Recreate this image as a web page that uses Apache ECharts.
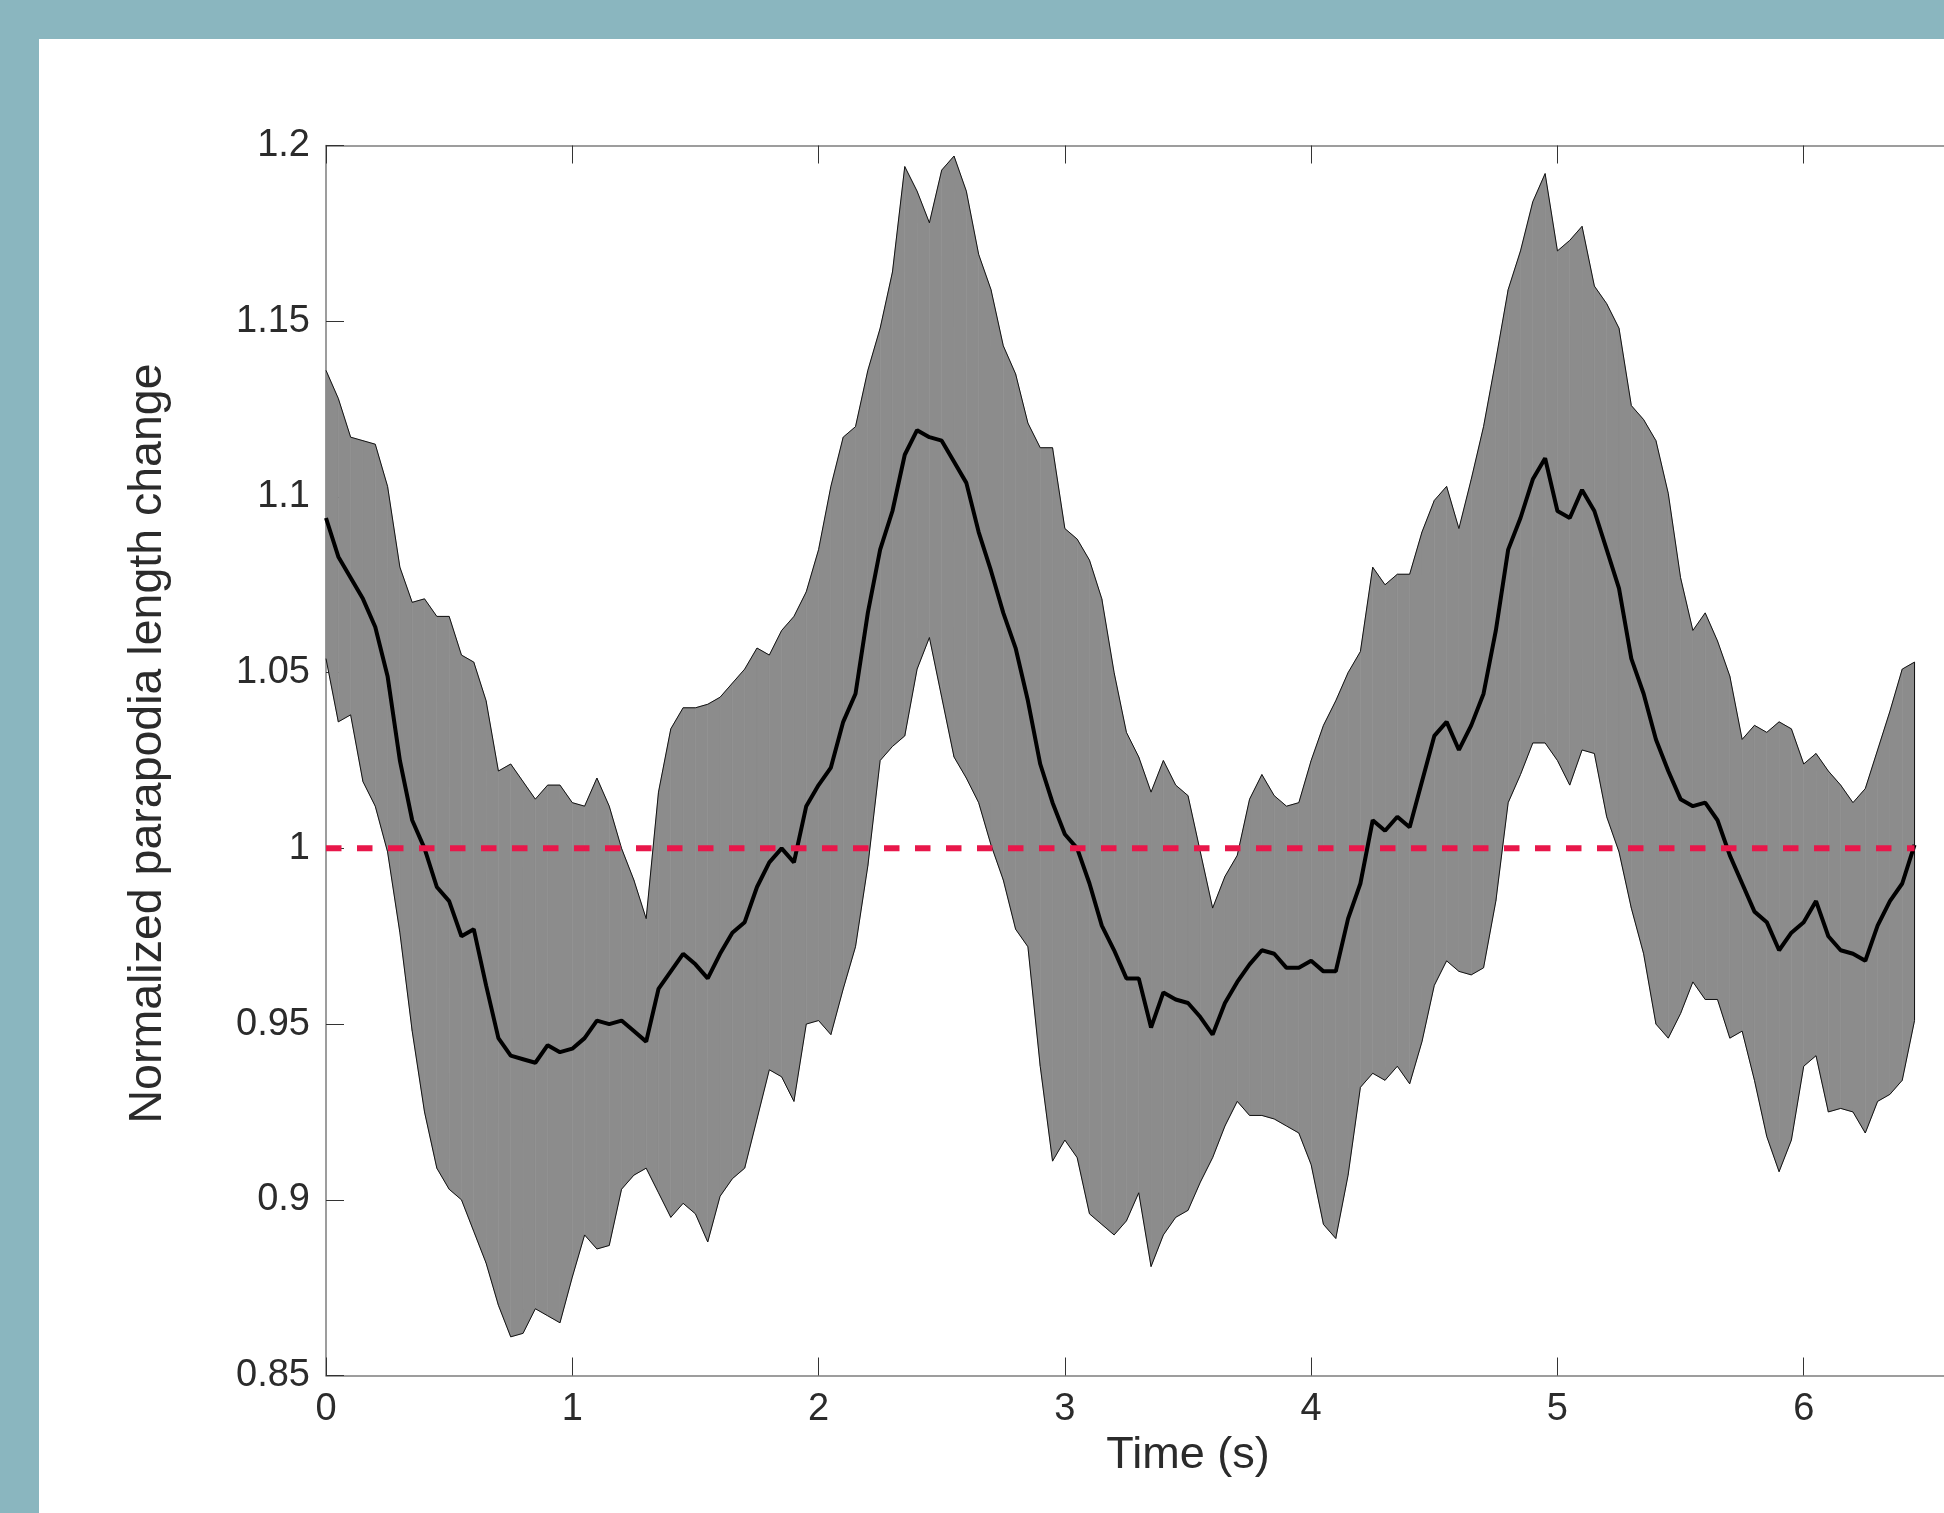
<!DOCTYPE html>
<html>
<head>
<meta charset="utf-8">
<script src="https://cdn.jsdelivr.net/npm/echarts@6/dist/echarts.min.js"></script>
<style>
  html, body { margin: 0; padding: 0; width: 1944px; height: 1513px; overflow: hidden; background: #8ab6bf; }
  #panel { position: absolute; left: 39px; top: 39px; width: 1905px; height: 1474px; background: #ffffff; }
  #chart { position: absolute; left: 0; top: 0; width: 2200px; height: 1513px; }
</style>
</head>
<body>
<div id="panel"></div>
<div id="chart"></div>
<script>
// time samples (s)
const times = [
  0.00,0.05,0.10,0.15,0.20,0.25,0.30,0.35,0.40,0.45,
  0.50,0.55,0.60,0.65,0.70,0.75,0.80,0.85,0.90,0.95,
  1.00,1.05,1.10,1.15,1.20,1.25,1.30,1.35,1.40,1.45,
  1.50,1.55,1.60,1.65,1.70,1.75,1.80,1.85,1.90,1.95,
  2.00,2.05,2.10,2.15,2.20,2.25,2.30,2.35,2.40,2.45,
  2.50,2.55,2.60,2.65,2.70,2.75,2.80,2.85,2.90,2.95,
  3.00,3.05,3.10,3.15,3.20,3.25,3.30,3.35,3.40,3.45,
  3.50,3.55,3.60,3.65,3.70,3.75,3.80,3.85,3.90,3.95,
  4.00,4.05,4.10,4.15,4.20,4.25,4.30,4.35,4.40,4.45,
  4.50,4.55,4.60,4.65,4.70,4.75,4.80,4.85,4.90,4.95,
  5.00,5.05,5.10,5.15,5.20,5.25,5.30,5.35,5.40,5.45,
  5.50,5.55,5.60,5.65,5.70,5.75,5.80,5.85,5.90,5.95,
  6.00,6.05,6.10,6.15,6.20,6.25,6.30,6.35,6.40,6.45
];
// mean normalized length change
const meanValues = [
  1.094,1.083,1.077,1.071,1.063,1.049,1.025,1.008,1.000,0.989,
  0.985,0.975,0.977,0.961,0.946,0.941,0.940,0.939,0.944,0.942,
  0.943,0.946,0.951,0.950,0.951,0.948,0.945,0.960,0.965,0.970,
  0.967,0.963,0.970,0.976,0.979,0.989,0.996,1.000,0.996,1.012,
  1.018,1.023,1.036,1.044,1.067,1.085,1.096,1.112,1.119,1.117,
  1.116,1.110,1.104,1.090,1.079,1.067,1.057,1.042,1.024,1.013,
  1.004,1.000,0.990,0.978,0.971,0.963,0.963,0.949,0.959,0.957,
  0.956,0.952,0.947,0.956,0.962,0.967,0.971,0.970,0.966,0.966,
  0.968,0.965,0.965,0.980,0.990,1.008,1.005,1.009,1.006,1.019,
  1.032,1.036,1.028,1.035,1.044,1.062,1.085,1.094,1.105,1.111,
  1.096,1.094,1.102,1.096,1.085,1.074,1.054,1.044,1.031,1.022,
  1.014,1.012,1.013,1.008,0.998,0.990,0.982,0.979,0.971,0.976,
  0.979,0.985,0.975,0.971,0.970,0.968,0.978,0.985,0.990,1.001
];
// upper edge of the shaded band
const upperValues = [
  1.136,1.128,1.117,1.116,1.115,1.103,1.080,1.070,1.071,1.066,
  1.066,1.055,1.053,1.042,1.022,1.024,1.019,1.014,1.018,1.018,
  1.013,1.012,1.020,1.012,1.000,0.991,0.980,1.016,1.034,1.040,
  1.040,1.041,1.043,1.047,1.051,1.057,1.055,1.062,1.066,1.073,
  1.085,1.103,1.117,1.120,1.136,1.148,1.164,1.194,1.187,1.178,
  1.193,1.197,1.187,1.169,1.159,1.143,1.135,1.121,1.114,1.114,
  1.091,1.088,1.082,1.071,1.050,1.033,1.026,1.016,1.025,1.018,
  1.015,0.999,0.983,0.992,0.998,1.014,1.021,1.015,1.012,1.013,
  1.025,1.035,1.042,1.050,1.056,1.080,1.075,1.078,1.078,1.090,
  1.099,1.103,1.091,1.105,1.120,1.139,1.159,1.170,1.184,1.192,
  1.170,1.173,1.177,1.160,1.155,1.148,1.126,1.122,1.116,1.101,
  1.077,1.062,1.067,1.059,1.049,1.031,1.035,1.033,1.036,1.034,
  1.024,1.027,1.022,1.018,1.013,1.017,1.028,1.039,1.051,1.053
];
// lower edge of the shaded band
const lowerValues = [
  1.054,1.036,1.038,1.019,1.012,0.999,0.976,0.948,0.925,0.909,
  0.903,0.900,0.891,0.882,0.870,0.861,0.862,0.869,0.867,0.865,
  0.878,0.890,0.886,0.887,0.903,0.907,0.909,0.902,0.895,0.899,
  0.896,0.888,0.901,0.906,0.909,0.923,0.937,0.935,0.928,0.950,
  0.951,0.947,0.960,0.972,0.995,1.025,1.029,1.032,1.051,1.060,
  1.043,1.026,1.020,1.013,1.001,0.991,0.977,0.972,0.938,0.911,
  0.917,0.912,0.896,0.893,0.890,0.894,0.902,0.881,0.890,0.895,
  0.897,0.905,0.912,0.921,0.928,0.924,0.924,0.923,0.921,0.919,
  0.910,0.893,0.889,0.907,0.932,0.936,0.934,0.938,0.933,0.945,
  0.961,0.968,0.965,0.964,0.966,0.985,1.013,1.021,1.030,1.030,
  1.025,1.018,1.028,1.027,1.009,0.999,0.983,0.970,0.950,0.946,
  0.953,0.962,0.957,0.957,0.946,0.948,0.934,0.918,0.908,0.917,
  0.938,0.941,0.925,0.926,0.925,0.919,0.928,0.930,0.934,0.951
];
// reference line at 1
const refTimes = [0, 6.45];
const refValues = [1, 1];
// tick labels
const xTickLabels = ['0','1','2','3','4','5','6',''];
const yTickLabels = {'0.85':'0.85','0.9':'0.9','0.95':'0.95','1':'1','1.05':'1.05','1.1':'1.1','1.15':'1.15','1.2':'1.2'};

const FONT = "'Liberation Sans', Arial, Helvetica, sans-serif";
const TXT = '#2b2b2b';

const chart = echarts.init(document.getElementById('chart'), null, {renderer: 'canvas'});

const last = times.length - 1;
// one quad per interval of the band: [t0, lo0, hi0, t1, lo1, hi1]
const bandData = [];
for (let i = 0; i < last; i++) {
  bandData.push([times[i], lowerValues[i], upperValues[i], times[i + 1], lowerValues[i + 1], upperValues[i + 1]]);
}
const lowerData = times.map((t, i) => [t, lowerValues[i]]);
const upperData = times.map((t, i) => [t, upperValues[i]]);
const meanData = times.map((t, i) => [t, meanValues[i]]);
const refData = refTimes.map((t, i) => [t, refValues[i]]);
const edgeData = [[times[last], lowerValues[last]], [times[last], upperValues[last]]];

function renderBand(params, api) {
  const a = api.coord([api.value(0), api.value(1)]);
  const b = api.coord([api.value(0), api.value(2)]);
  const c = api.coord([api.value(3), api.value(5)]);
  const d = api.coord([api.value(3), api.value(4)]);
  return {
    type: 'polygon',
    shape: {points: [a, b, c, d]},
    style: {fill: '#8c8c8c', stroke: '#8c8c8c', lineWidth: 0.6},
    silent: true
  };
}

const axisLineStyle = {color: '#7d7d7d', width: 1.5};
const tickStyle = {color: '#333333', width: 1};

const option = {
  animation: false,
  backgroundColor: 'transparent',
  grid: {left: 326, top: 145.5, width: 1724, height: 1230, containLabel: false},
  xAxis: [
    {
      type: 'value', min: 0, max: 7, interval: 1, position: 'bottom',
      axisLine: {show: true, onZero: false, lineStyle: axisLineStyle},
      axisTick: {show: true, inside: true, length: 18, lineStyle: tickStyle},
      axisLabel: {fontSize: 38, color: TXT, fontFamily: FONT, margin: 15,
        formatter: v => xTickLabels[Math.round(v)]},
      splitLine: {show: false},
      name: 'Time (s)', nameLocation: 'middle', nameGap: 58,
      nameTextStyle: {fontSize: 45, color: TXT, fontFamily: FONT}
    },
    {
      type: 'value', min: 0, max: 7, interval: 1, position: 'top',
      axisLine: {show: true, onZero: false, lineStyle: axisLineStyle},
      axisTick: {show: true, inside: true, length: 18, lineStyle: tickStyle},
      axisLabel: {show: false}, splitLine: {show: false}
    }
  ],
  yAxis: [
    {
      type: 'value', min: 0.85, max: 1.2, interval: 0.05, position: 'left',
      axisLine: {show: true, onZero: false, lineStyle: axisLineStyle},
      axisTick: {show: true, inside: true, length: 18, lineStyle: tickStyle},
      axisLabel: {fontSize: 38, color: TXT, fontFamily: FONT, margin: 16,
        formatter: v => yTickLabels[String(+v.toFixed(2))]},
      splitLine: {show: false},
      name: 'Normalized parapodia length change', nameLocation: 'middle', nameGap: 154,
      nameTextStyle: {fontSize: 46.5, color: TXT, fontFamily: FONT, padding: [0, 0, 0, 34]}
    }
  ],
  series: [
    {
      name: 'band', type: 'custom', data: bandData, renderItem: renderBand,
      encode: {x: [0, 3], y: [1, 2, 4, 5]}, z: 2, silent: true
    },
    {
      name: 'lower', type: 'line', data: lowerData, symbol: 'none',
      lineStyle: {color: '#111111', width: 1}, z: 3, silent: true
    },
    {
      name: 'upper', type: 'line', data: upperData, symbol: 'none',
      lineStyle: {color: '#111111', width: 1}, z: 3, silent: true
    },
    {
      name: 'edge', type: 'line', data: edgeData, symbol: 'none',
      lineStyle: {color: '#111111', width: 1}, z: 3, silent: true
    },
    {
      name: 'mean', type: 'line', data: meanData, symbol: 'none',
      lineStyle: {color: '#000000', width: 4}, z: 4, silent: true
    },
    {
      name: 'reference', type: 'line', data: refData, symbol: 'none',
      lineStyle: {color: '#e8174a', width: 6, type: [15.5, 15.5], cap: 'butt'}, z: 5, silent: true
    }
  ]
};
chart.setOption(option);
</script>
</body>
</html>
